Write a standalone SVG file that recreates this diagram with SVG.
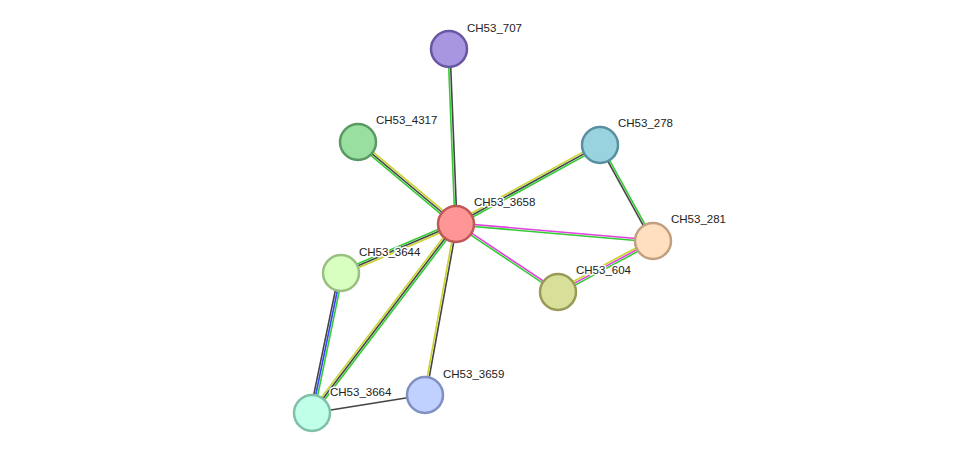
<svg xmlns="http://www.w3.org/2000/svg" width="975" height="459" viewBox="0 0 975 459">
<style>
line{stroke-width:1.6;fill:none}
.g{stroke:#33cc33}.k{stroke:#444}.y{stroke:#c8d42a}.m{stroke:#e040e0}.b{stroke:#3344ff}
circle{stroke-width:2.5}
text{font-family:"Liberation Sans",Arial,sans-serif;font-size:11.5px;fill:#222;stroke:#fff;stroke-width:3px;paint-order:stroke;stroke-linejoin:round}
</style>
<rect width="975" height="459" fill="#fff"/>
<g id="edges">
<g transform="translate(456,224) rotate(-92.29)"><line class="g" x1="0" y1="-1" x2="175" y2="-1"/><line class="k" x1="0" y1="1" x2="175" y2="1"/></g>
<g transform="translate(456,224) rotate(-140.08)"><line class="g" x1="0" y1="-2" x2="128" y2="-2"/><line class="k" x1="0" y1="0" x2="128" y2="0"/><line class="y" x1="0" y1="2" x2="128" y2="2"/></g>
<g transform="translate(456,224) rotate(-28.75)"><line class="y" x1="0" y1="-2" x2="164" y2="-2"/><line class="k" x1="0" y1="0" x2="164" y2="0"/><line class="g" x1="0" y1="2" x2="164" y2="2"/></g>
<g transform="translate(456,224) rotate(4.93)"><line class="m" x1="0" y1="-1" x2="198" y2="-1"/><line class="g" x1="0" y1="1" x2="198" y2="1"/></g>
<g transform="translate(456,224) rotate(33.69)"><line class="m" x1="0" y1="-1" x2="123" y2="-1"/><line class="g" x1="0" y1="1" x2="123" y2="1"/></g>
<g transform="translate(456,224) rotate(156.92)"><line class="y" x1="0" y1="-2" x2="125" y2="-2"/><line class="k" x1="0" y1="0" x2="125" y2="0"/><line class="g" x1="0" y1="2" x2="125" y2="2"/></g>
<g transform="translate(456,224) rotate(127.30)"><line class="g" x1="0" y1="-2" x2="238" y2="-2"/><line class="k" x1="0" y1="0" x2="238" y2="0"/><line class="y" x1="0" y1="2" x2="238" y2="2"/></g>
<g transform="translate(456,224) rotate(100.28)"><line class="k" x1="0" y1="-1" x2="174" y2="-1"/><line class="y" x1="0" y1="1" x2="174" y2="1"/></g>
<g transform="translate(341,273) rotate(101.70)"><line class="g" x1="0" y1="-2" x2="143" y2="-2"/><line class="b" x1="0" y1="0" x2="143" y2="0"/><line class="k" x1="0" y1="2" x2="143" y2="2"/></g>
<g transform="translate(312,413) rotate(-9.05)"><line class="k" x1="0" y1="0" x2="114" y2="0"/></g>
<g transform="translate(600,145) rotate(61.09)"><line class="g" x1="0" y1="-1" x2="110" y2="-1"/><line class="k" x1="0" y1="1" x2="110" y2="1"/></g>
<g transform="translate(653,241) rotate(151.77)"><line class="g" x1="0" y1="-2" x2="108" y2="-2"/><line class="m" x1="0" y1="0" x2="108" y2="0"/><line class="y" x1="0" y1="2" x2="108" y2="2"/></g>
</g>
<g id="CH53_707"><circle cx="449" cy="49" r="18" fill="#a996e0" stroke="#6a57a2"/><text x="467" y="32">CH53_707</text></g>
<g id="CH53_4317"><circle cx="358" cy="142" r="18" fill="#99e0a0" stroke="#5a9a62"/><text x="376" y="124">CH53_4317</text></g>
<g id="CH53_278"><circle cx="600" cy="145" r="18" fill="#9ad3e0" stroke="#5a8fa0"/><text x="618" y="127">CH53_278</text></g>
<g id="CH53_3658"><circle cx="456" cy="224" r="18" fill="#ff9696" stroke="#c05757"/><text x="474" y="206">CH53_3658</text></g>
<g id="CH53_281"><circle cx="653" cy="241" r="18" fill="#ffdfc0" stroke="#c0a080"/><text x="671" y="223">CH53_281</text></g>
<g id="CH53_3644"><circle cx="341" cy="273" r="18" fill="#d8ffc0" stroke="#99c080"/><text x="359" y="256">CH53_3644</text></g>
<g id="CH53_604"><circle cx="558" cy="292" r="18" fill="#d8df99" stroke="#999a55"/><text x="576" y="274">CH53_604</text></g>
<g id="CH53_3659"><circle cx="425" cy="395" r="18" fill="#c0d0ff" stroke="#8090c0"/><text x="443" y="378">CH53_3659</text></g>
<g id="CH53_3664"><circle cx="312" cy="413" r="18" fill="#c0ffe8" stroke="#80c0a8"/><text x="330" y="396">CH53_3664</text></g>
</svg>
